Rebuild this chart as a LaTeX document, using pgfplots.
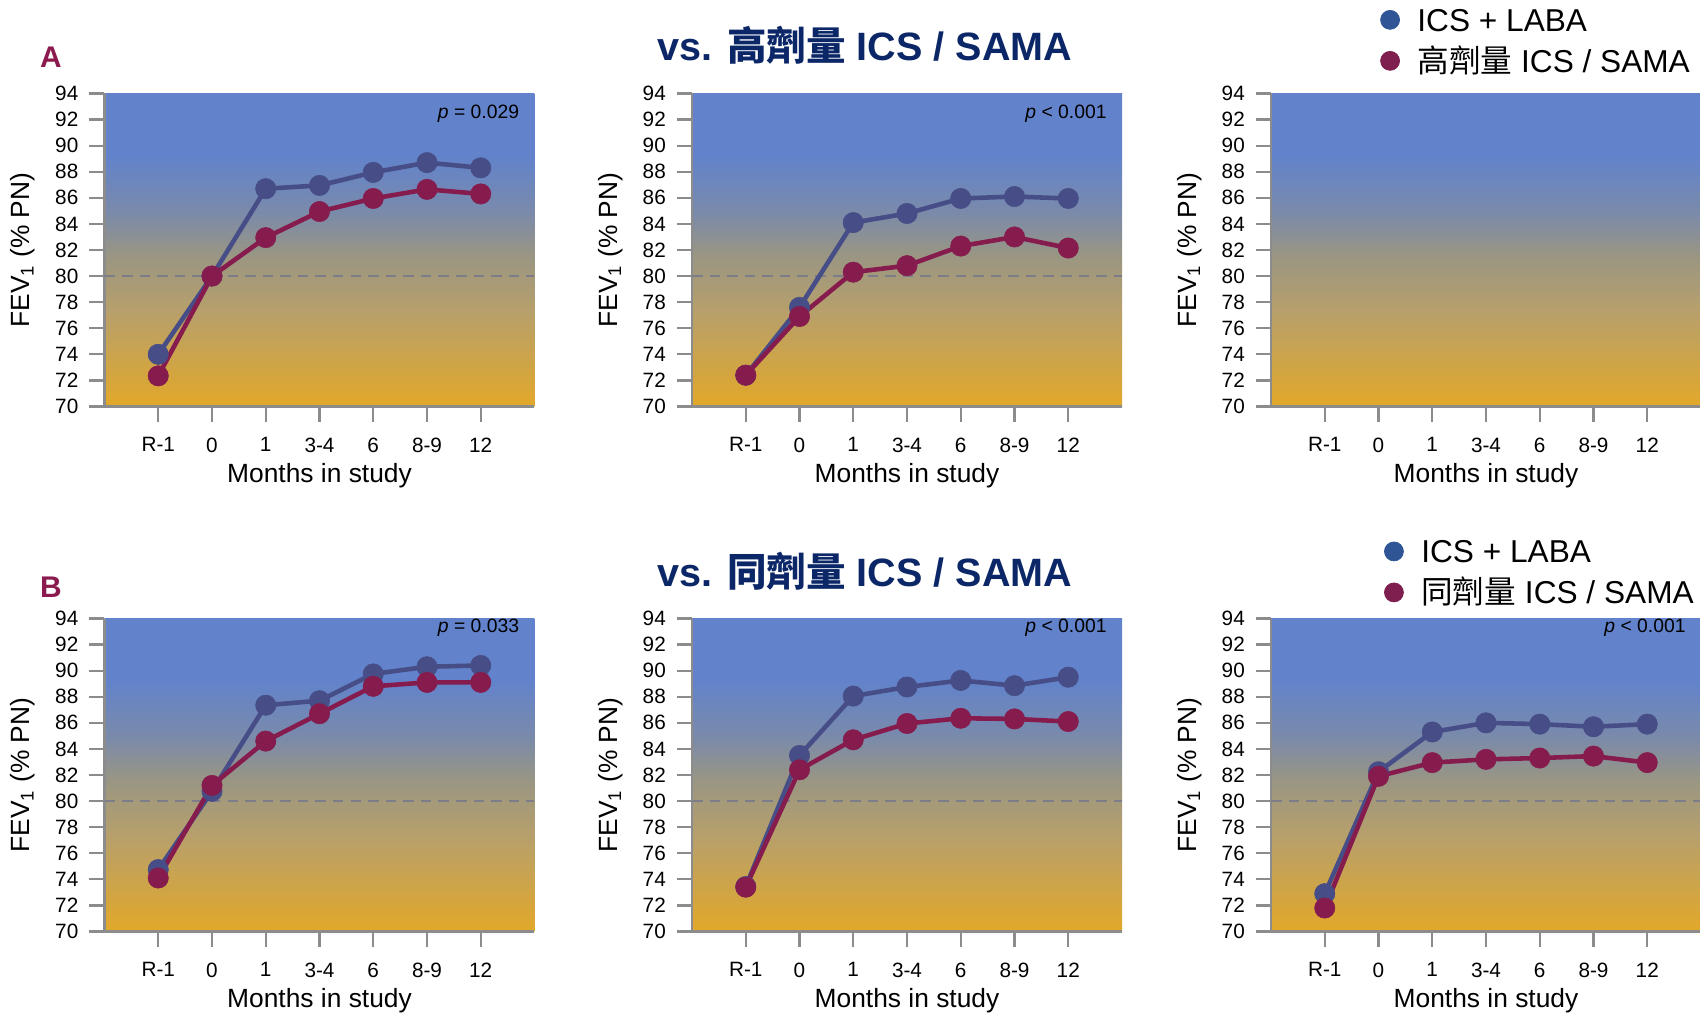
\documentclass[border=0pt]{standalone}
\usepackage{fontspec}
\setmainfont{Liberation Sans}
\newfontfamily\cjk{Noto Sans CJK TC}
\usepackage{pgfplots}
\usepackage{pgfplotstable}
\pgfplotsset{compat=1.18}

\definecolor{lineblue}{RGB}{71,77,134}
\definecolor{linered}{RGB}{134,28,77}
\definecolor{legblue}{RGB}{47,85,151}
\definecolor{legred}{RGB}{126,31,79}
\definecolor{titlenavy}{RGB}{11,39,103}
\definecolor{lettermaroon}{RGB}{139,26,79}
\definecolor{axisgray}{RGB}{140,140,140}
\definecolor{refgray}{RGB}{125,125,138}
\definecolor{bgtop}{RGB}{98,131,203}
\definecolor{bgcA}{RGB}{122,138,170}
\definecolor{bgcB}{RGB}{154,150,130}
\definecolor{bgcC}{RGB}{184,160,106}
\definecolor{bgbot}{RGB}{226,168,41}

\pgfdeclareverticalshading{fevbg}{100bp}{color(0bp)=(bgbot); color(25bp)=(bgbot); color(40bp)=(bgcC); color(49bp)=(bgcB); color(56bp)=(bgcA); color(65bp)=(bgtop); color(100bp)=(bgtop)}

% x: 0=R-1, 1=0, 2=1, 3=3-4, 4=6, 5=8-9, 6=12
\pgfplotstableread{
x blue  red
0 74.0  72.35
1 80.0  80.0
2 86.7  82.95
3 86.95 84.95
4 87.95 85.95
5 88.7  86.65
6 88.3  86.3
}\dataAa
\pgfplotstableread{
x blue  red
0 72.4  72.4
1 77.6  76.9
2 84.1  80.3
3 84.8  80.8
4 85.95 82.3
5 86.1  83.0
6 85.95 82.15
}\dataAb
\pgfplotstableread{
x blue  red
0 74.75 74.1
1 80.75 81.2
2 87.35 84.6
3 87.7  86.7
4 89.75 88.8
5 90.3  89.1
6 90.4  89.1
}\dataBa
\pgfplotstableread{
x blue  red
0 73.45 73.4
1 83.5  82.4
2 88.05 84.7
3 88.75 85.95
4 89.25 86.35
5 88.85 86.3
6 89.5  86.1
}\dataBb
\pgfplotstableread{
x blue  red
0 72.9  71.8
1 82.25 81.9
2 85.3  82.95
3 86.0  83.2
4 85.9  83.3
5 85.7  83.45
6 85.9  82.95
}\dataBc

\pgfplotsset{
  fevpanel/.style={
    scale only axis, width=8.6cm, height=6.26cm, anchor=south west,
    xmin=-1, xmax=7, ymin=70, ymax=94,
    xtick={0,...,6}, xticklabels={R-1,0,1,3-4,6,8-9,12},
    ytick={70,72,...,94},
    axis x line*=bottom, axis y line*=left,
    axis line style={-, draw=axisgray, line width=1.3pt},
    tick align=outside, major tick length=0.3cm,
    tick style={draw=axisgray, line width=1.3pt},
    ticklabel style={font=\fontsize{11.8}{13}\selectfont},
    /pgf/number format/assume math mode=true,
    yticklabel style={xshift=-0.1cm},
    xticklabel style={yshift=-0.2cm},
    xlabel={Months in study},
    ylabel={FEV\textsubscript{1} (\% PN)},
    label style={font=\fontsize{15}{17}\selectfont},
    x label style={at={(axis description cs:0.5,-0.221)}, anchor=center},
    y label style={at={(axis description cs:-0.19,0.5)}, anchor=center},
    axis background/.style={shade, shading=fevbg},
    legend image code/.code={\fill[##1] (0.19cm,0cm) circle (0.19cm);},
    legend cell align=left,
  },
  blueser/.style={lineblue, line width=2.6pt, mark=*, mark size=5.8pt, forget plot,
    mark options={solid, fill=lineblue, draw=lineblue, line width=0.3pt}},
  redser/.style={linered, line width=2.6pt, mark=*, mark size=5.8pt, forget plot,
    mark options={solid, fill=linered, draw=linered, line width=0.3pt}},
  refline/.style={refgray, line width=1.6pt, dash pattern=on 6pt off 4pt, forget plot},
  legbox/.style={legend style={draw=none, fill=none, inner sep=0pt, outer sep=0pt,
    at={(axis description cs:#1)}, anchor=north west, row sep=0.16cm, column sep=0.35cm,
    font=\fontsize{18}{20}\selectfont,
    nodes={inner sep=0pt, text height=0.56cm, text depth=0.1cm}}},
}

\newcommand{\pval}[2]{\node[anchor=east, font=\fontsize{11}{13}\selectfont, inner sep=0pt] at (rel axis cs:0.965,#1) {#2};}

\begin{document}
\begin{tikzpicture}
\useasboundingbox (0,0) rectangle (34,20.28);

% titles and panel letters
\node[font=\bfseries\fontsize{22.5}{26}\selectfont, text=titlenavy] at (17.30,19.37) {vs. {\cjk 高劑量} ICS / SAMA};
\node[font=\bfseries\fontsize{22.5}{26}\selectfont, text=titlenavy] at (17.30,8.85) {vs. {\cjk 同劑量} ICS / SAMA};
\node[font=\bfseries\fontsize{17}{20}\selectfont, text=lettermaroon] at (1.02,19.13) {A};
\node[font=\bfseries\fontsize{17}{20}\selectfont, text=lettermaroon] at (1.02,8.53) {B};

% ---- row A ----
\begin{axis}[fevpanel, at={(2.09cm,12.15cm)}]
\addplot[refline] coordinates {(-1,80) (7,80)};
\addplot[blueser] table[x=x, y=blue] {\dataAa};
\addplot[redser] table[x=x, y=red] {\dataAa};
\pval{0.934}{\textit{p} = 0.029}
\end{axis}

\begin{axis}[fevpanel, at={(13.84cm,12.15cm)}]
\addplot[refline] coordinates {(-1,80) (7,80)};
\addplot[blueser] table[x=x, y=blue] {\dataAb};
\addplot[redser] table[x=x, y=red] {\dataAb};
\pval{0.934}{\textit{p} < 0.001}
\end{axis}

\begin{axis}[fevpanel, at={(25.42cm,12.15cm)}, legbox={0.254,1.288}]
\addlegendimage{legblue}
\addlegendentry{ICS + LABA}
\addlegendimage{legred}
\addlegendentry{{\cjk 高劑量} ICS / SAMA}
\end{axis}

% ---- row B ----
\begin{axis}[fevpanel, at={(2.09cm,1.65cm)}]
\addplot[refline] coordinates {(-1,80) (7,80)};
\addplot[blueser] table[x=x, y=blue] {\dataBa};
\addplot[redser] table[x=x, y=red] {\dataBa};
\pval{0.972}{\textit{p} = 0.033}
\end{axis}

\begin{axis}[fevpanel, at={(13.84cm,1.65cm)}]
\addplot[refline] coordinates {(-1,80) (7,80)};
\addplot[blueser] table[x=x, y=blue] {\dataBb};
\addplot[redser] table[x=x, y=red] {\dataBb};
\pval{0.972}{\textit{p} < 0.001}
\end{axis}

\begin{axis}[fevpanel, at={(25.42cm,1.65cm)}, legbox={0.263,1.267}]
\addlegendimage{legblue}
\addlegendentry{ICS + LABA}
\addlegendimage{legred}
\addlegendentry{{\cjk 同劑量} ICS / SAMA}
\addplot[refline] coordinates {(-1,80) (7,80)};
\addplot[blueser] table[x=x, y=blue] {\dataBc};
\addplot[redser] table[x=x, y=red] {\dataBc};
\pval{0.972}{\textit{p} < 0.001}
\end{axis}
\end{tikzpicture}
\end{document}
